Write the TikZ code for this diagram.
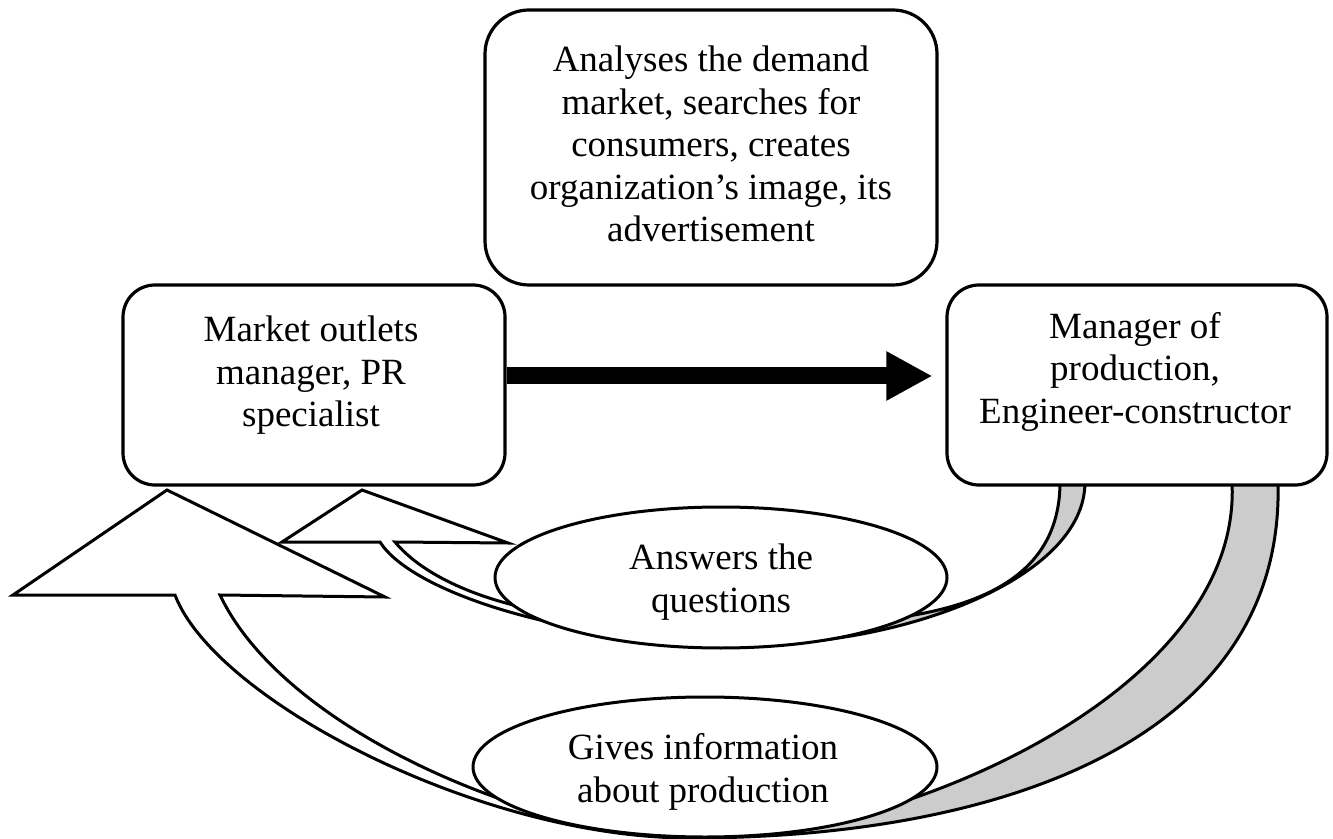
\documentclass[tikz,border=0pt]{standalone}
\usepackage{fontspec}
\setmainfont{Liberation Serif}
\usetikzlibrary{shapes.geometric,arrows.meta}
\begin{document}
\begin{tikzpicture}[x=0.5pt,y=-0.5pt,
  every node/.style={font=\fontsize{18.5pt}{21.25pt}\selectfont},
  rbox/.style={draw, line width=1.6pt, fill=white, inner sep=0pt},
  txt/.style={align=center, inner sep=0pt},
  oval/.style={ellipse, draw, line width=1.5pt, fill=white, inner sep=0pt},
  band/.style={draw, line width=1.5pt, fill=white},
  gband/.style={draw, line width=1.5pt, fill=black!20},
  bigarrow/.style={line width=8.5pt, -{Triangle[length=23pt,width=23pt]}, shorten >=6.5pt}
]
\useasboundingbox (0,0) rectangle (1333,839);

% big curved arrow (white front part with head)
\path[band] (220,595) .. controls (265,690) and (400,770) .. (540,812) -- (690,838)
  .. controls (480,838) and (215,700) .. (175,595) -- (13,595) -- (167,490) -- (385,597) -- cycle;
% big curved arrow (grey back part)
\path[gband] (1232,482) .. controls (1240,640) and (1050,760) .. (870,812) -- (690,838)
  .. controls (1000,838) and (1285,740) .. (1278,482) -- cycle;

% small curved arrow (white front part with head)
\path[band] (395,542) .. controls (420,572) and (470,598) .. (545,612) -- (760,644)
  .. controls (560,644) and (410,590) .. (380,542) -- (282,542) -- (362,490) -- (508,543) -- cycle;
% small curved arrow (grey back part)
\path[gband] (1060,482) .. controls (1060,570) and (990,605) .. (895,618) -- (760,644)
  .. controls (900,644) and (1085,580) .. (1085,482) -- cycle;

% ellipses
\node[oval, minimum width=226pt, minimum height=70.5pt] (ans) at (721,577.5) {};
\node[txt] (anst) at (721,582) {Answers the\\questions};
\node[oval, minimum width=232pt, minimum height=70pt] (giv) at (705,767) {};
\node[txt] (givt) at (703,772) {Gives information\\about production};

% boxes
\node[rbox, rounded corners=22pt, minimum width=226pt, minimum height=137.5pt] (top) at (711,147.5) {};
\node[txt] (topt) at (711,144) {Analyses the demand\\market, searches for\\consumers, creates\\organization’s image, its\\advertisement};
\node[rbox, rounded corners=16pt, minimum width=191pt, minimum height=100pt] (mkt) at (314,385) {};
\node[txt] (mktt) at (311,375.5) {Market outlets\\manager, PR\\specialist};
\node[rbox, rounded corners=16pt, minimum width=190pt, minimum height=100pt] (prod) at (1137,385) {};
\node[txt] (prodt) at (1135,371.5) {Manager of\\production,\\Engineer-constructor};

% straight arrow
\draw[bigarrow] (mkt.east |- 0,376) -- (prod.west |- 0,376);
\end{tikzpicture}
\end{document}
